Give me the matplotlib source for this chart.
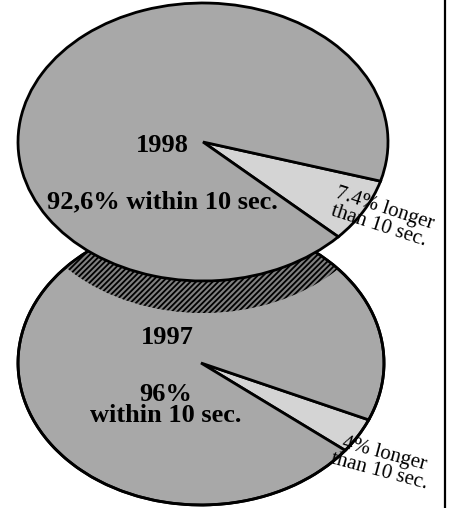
import numpy as np
import matplotlib
matplotlib.use("Agg")
import matplotlib.pyplot as plt
from matplotlib.patches import Ellipse
from matplotlib.transforms import Affine2D

# shares of calls answered (percent)
years = ["1998", "1997"]
longer = [7.4, 4.0]
within = [92.6, 96.0]

W, H = 450, 508

fig = plt.figure(figsize=(4.5, 5.08), dpi=100)
ax = fig.add_axes([0, 0, 1, 1])

# pie geometry in pixels (x right, y up)
top = dict(cx=203, cy=H - 142, rx=185, ry=139, start=-43)
bot = dict(cx=201, cy=H - 363, rx=183, ry=142, start=-38)
shift = 32

big_col = "#a8a8a8"
small_col = "#d4d4d4"
plt.rcParams["hatch.linewidth"] = 1.3


def squash(p):
    # circle of radius rx -> ellipse with ry
    return (Affine2D().translate(-p["cx"], -p["cy"])
            .scale(1, p["ry"] / p["rx"])
            .translate(p["cx"], p["cy"]) + ax.transData)


def draw_pie(p, vals, z):
    wedges, _ = ax.pie(vals, center=(p["cx"], p["cy"]), radius=p["rx"],
                       startangle=p["start"], counterclock=True,
                       colors=[small_col, big_col],
                       wedgeprops=dict(edgecolor="black", linewidth=2.0))
    tr = squash(p)
    for w in wedges:
        w.set_transform(tr)
        w.set_zorder(z)
    return wedges


# bottom pie (1997)
draw_pie(bot, [longer[1], within[1]], 1)

# side wall of the top pie, visible over the bottom one
clip = Ellipse((bot["cx"], bot["cy"]), 2 * bot["rx"], 2 * bot["ry"],
               transform=ax.transData)
band = Ellipse((top["cx"], top["cy"] - shift), 2 * top["rx"], 2 * top["ry"],
               facecolor="#808080", edgecolor="black", linewidth=0,
               hatch="//////", zorder=2)
ax.add_patch(band)
band.set_clip_path(clip)
ax.add_patch(Ellipse((bot["cx"], bot["cy"]), 2 * bot["rx"], 2 * bot["ry"],
                     fill=False, edgecolor="black", linewidth=2.0, zorder=2.5))

# top pie (1998)
draw_pie(top, [longer[0], within[0]], 3)

ax.set_aspect("auto")
ax.set_xlim(0, W)
ax.set_ylim(0, H)
ax.axis("off")

# right border line
ax.plot([445, 445], [0, H], color="black", linewidth=1.6, zorder=5)

serif = ["Liberation Serif", "DejaVu Serif"]
bold = dict(family=serif, fontweight="bold", fontsize=19, ha="center",
            va="center", zorder=6)
reg = dict(family=serif, fontsize=15, ha="center", va="center",
           linespacing=0.95, zorder=6)

ax.text(162, H - 145, years[0], **bold)
ax.text(162, H - 202, f"{within[0]:.1f}% within 10 sec.".replace(".", ",", 1), **bold)
ax.text(382, H - 217, f"{longer[0]:.1f}% longer\nthan 10 sec.", rotation=-18, **reg)

ax.text(167, H - 337, years[1], **bold)
ax.text(166, H - 405, f"{within[1]:.0f}%\nwithin 10 sec.", linespacing=0.9, **bold)
ax.text(382, H - 463, f"{longer[1]:.0f}% longer\nthan 10 sec.", rotation=-15, **reg)

fig.savefig("out.png", dpi=100)
